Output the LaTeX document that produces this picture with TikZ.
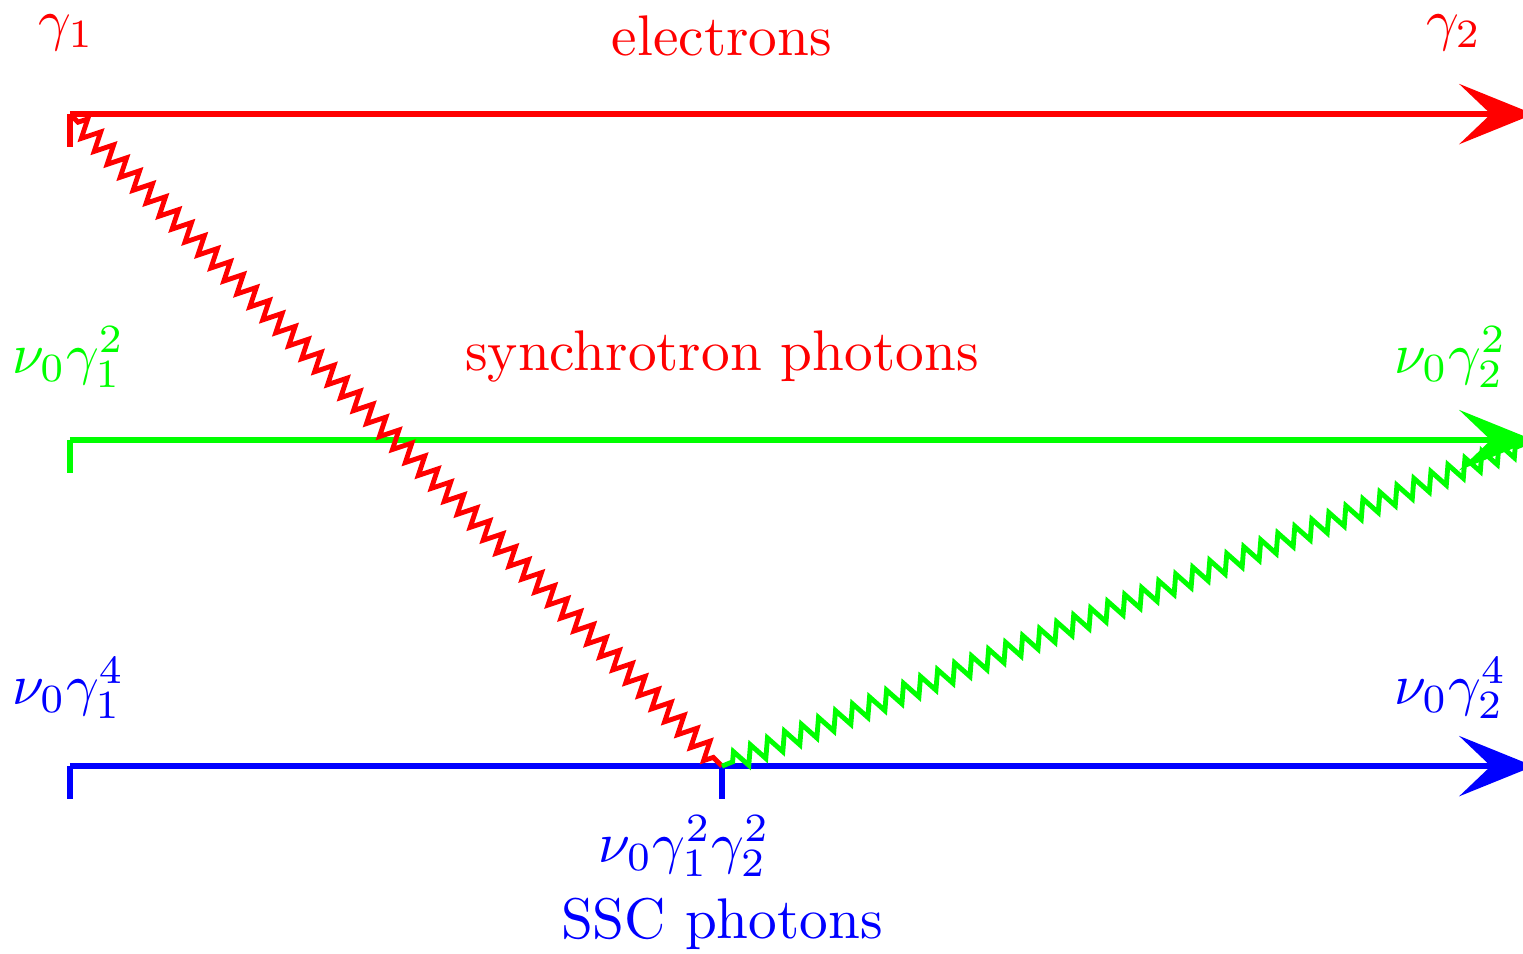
\documentclass[tikz,border=0pt]{standalone}
\usepackage{xcolor}
\usepackage{tikz}
\usetikzlibrary{arrows.meta, calc, decorations.pathmorphing}

\begin{document}
\begin{tikzpicture}[
    lane/.style={
        line width=1pt,
        -{Stealth[length=13pt, width=10.5pt, inset=5.5pt]},
    },
    laneend/.style={line width=1pt},
    photon/.style={
        line width=0.85pt,
        decorate,
        decoration={zigzag, segment length=3.2pt, amplitude=1.6pt,
                    pre length=2pt, post length=2pt},
    },
    tag/.style={font=\fontsize{10}{12}\selectfont, inner sep=0pt},
]
\useasboundingbox (-0.429,-1.147) rectangle (8.914,4.700);

% ── Energy axes ────────────────────────────────────────────────────────
\coordinate (eL) at (0,4);
\coordinate (eR) at (8.98,4);
\coordinate (sL) at (0,2);
\coordinate (sR) at (8.98,2);
\coordinate (cL) at (0,0);
\coordinate (cM) at (4,0);
\coordinate (cR) at (8.98,0);

\draw[laneend, red]   ($(eL)+(0,-0.2)$) -- (eL);
\draw[lane, red]      (eL) -- (eR);
\draw[laneend, green] ($(sL)+(0,-0.2)$) -- (sL);
\draw[lane, green]    (sL) -- (sR);
\draw[laneend, blue]  ($(cL)+(0,-0.2)$) -- (cL);
\draw[lane, blue]     (cL) -- (cR);
\draw[laneend, blue]  ($(cM)+(0,-0.2)$) -- (cM);

% ── Labels ─────────────────────────────────────────────────────────────
\node[tag, red] (g1) at (-0.02,4.50) {$\gamma_1$};
\node[tag, red] (elec) at (4.0,4.48) {electrons};
\node[tag, red] (g2) at (8.49,4.50) {$\gamma_2$};

\node[tag, green] (s1) at (-0.01,2.51) {$\nu_0\gamma_1^2$};
\node[tag, red] (sync) at (4.0,2.51) {synchrotron photons};
\node[tag, green] (s2) at (8.47,2.51) {$\nu_0\gamma_2^2$};

\node[tag, blue] (c1) at (-0.01,0.48) {$\nu_0\gamma_1^4$};
\node[tag, blue] (c2) at (8.47,0.48) {$\nu_0\gamma_2^4$};
\node[tag, blue] (cmid) at (3.77,-0.49) {$\nu_0\gamma_1^2\gamma_2^2$};
\node[tag, blue] (ssc) at (4.0,-0.97) {SSC photons};

% ── Scattering paths ───────────────────────────────────────────────────
\draw[photon, red]   (eL) -- (cM);
\draw[photon, green] (cM) -- (sR);

\end{tikzpicture}
\end{document}
